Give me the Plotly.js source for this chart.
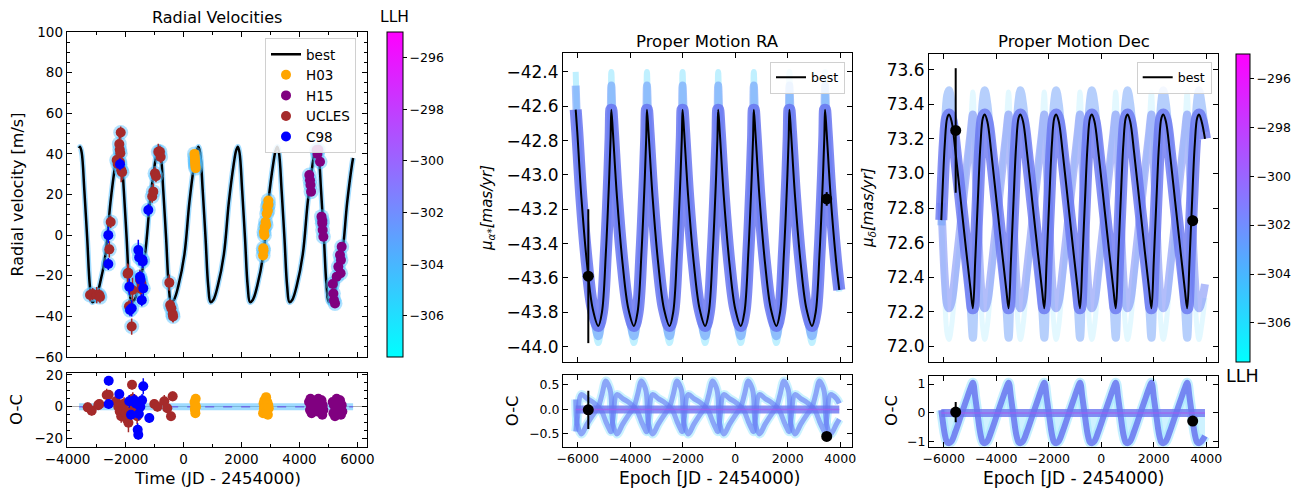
<!DOCTYPE html>
<html><head><meta charset="utf-8">
<script src="https://cdn.plot.ly/plotly-3.0.1.min.js"></script>
<style>body{margin:0;background:#fff}#chart{width:1309px;height:490px}</style>
</head><body><div id="chart"></div>
<script>
// ---------------- Radial velocity: best model ----------------
const rvModelT = [-3600,
 -3571,-3511,-3421,-3321,-3231,-3151,-3051,-2901,-2691,-2521,-2351,-2271,
 -2210,-2150,-2060,-1960,-1870,-1790,-1690,-1540,-1330,-1160,-990,-910,
 -849,-789,-699,-599,-509,-429,-329,-179,31,201,371,451,
 512,572,662,762,852,932,1032,1182,1392,1562,1732,1812,
 1873,1933,2023,2123,2213,2293,2393,2543,2753,2923,3093,3173,
 3234,3294,3384,3484,3574,3654,3754,3904,4114,4284,4454,4534,
 4595,4655,4745,4845,4935,5015,5115,5265,5475,5645,5815,5850];
const rvModelV = [42.8,
 43.5,40.5,22,-2,-25,-33,-31.8,-25,-9.5,16,35,41.5,
 43.5,40.5,22,-2,-25,-33,-31.8,-25,-9.5,16,35,41.5,
 43.5,40.5,22,-2,-25,-33,-31.8,-25,-9.5,16,35,41.5,
 43.5,40.5,22,-2,-25,-33,-31.8,-25,-9.5,16,35,41.5,
 43.5,40.5,22,-2,-25,-33,-31.8,-25,-9.5,16,35,41.5,
 43.5,40.5,22,-2,-25,-33,-31.8,-25,-9.5,16,35,41.5,
 43.5,40.5,22,-2,-25,-33,-31.8,-25,-9.5,16,35,38];

// ---------------- RV data ----------------
const uclesT = [-3226,-3133,-2995,-2905,-2881,-2560,-2512,-2305,-2270,-2215,-2200,-2180,-2167,-2150,-2120,-2195,-1930,-1905,-1880,-1788,-1760,-1502,-1467,-1450,-1080,-1042,-984,-950,-870,-812,-790,-490,-460,-420,-374,-360];
const uclesV = [-29.5,-29.0,-29.5,-29.5,-30.5,-7.0,6.5,37,35,44.9,42,40.3,50.5,32,31,36,-19,-18.5,-35,-45,-27,-22,-26.5,-24,19,21.4,30.4,29,41,41,38.5,-23.4,-34.4,-36,-38.8,-40];
const uclesE = [3,3,4,3,3,4,3,4,5,4,3,4,3,6,4,3,5,4,3,4,6,5,4,3,3,4,3,3,4,3,3,4,3,3,4,3];
const c98T = [-2595,-2595,-2191,-1871,-1846,-1788,-1560,-1530,-1502,-1480,-1440,-1420,-1408,-1388,-1215];
const c98V = [0.0,-14.2,34.9,-25.4,-36.9,-36,-7.3,-11,-20.5,-22,-32,-12,-13,-26.2,12.4];
const c98E = [4,3,3,4,3,4,5,4,3,4,3,4,3,4,3];
const h03T = [380,390,395,400,405,410,420,2745,2752,2760,2775,2790,2800,2830,2850,2870,2890,2910,2924,2930];
const h03V = [40,38.5,37,36,35,34,33,-10,-6.5,-7.5,1.5,0,4,6.5,5,10.5,14,12,17,15];
const h03E = [2,2,2,2,2,2,2,2,2,2,2,2,2,2,2,2,2,2,2,2];
const h15T = [4340,4363,4380,4400,4594,4620,4650,4709,4760,4787,4800,4825,4790,5146,5170,5190,5226,5283,5340,5398,5430,5456,5420];
const h15V = [29.6,27,24.7,21.4,41.9,40,42,36.1,9.1,5.8,2.5,-0.8,7,-24.1,-28.7,-32,-33.6,-20.5,-15.6,-9.8,-12.3,-5.7,-18.8];
const h15E = [2,2,2,2,2,2,2,2,2,2,2,2,2,2,2,2,2,2,2,2,2,2,2];

// ---------------- RV residuals (O-C) ----------------
const uclesRT = [-3306,-3168,-2940,-2905,-2650,-2581,-2329,-2250,-2200,-2150,-2100,-2050,-1990,-1950,-1900,-1860,-1777,-1750,-1700,-1650,-1600,-1560,-1008,-900,-663,-560,-432,-374];
const uclesR = [-0.4,-2.5,1.0,1.7,7.3,7.5,3.4,0,-3,-6,-2,2,-4,-8,-10,-3,13.8,5,-1,2,-6,0,1.7,0,3.4,-1,-6,6.5];
const uclesRE = [3,3,3,3,4,3,3,4,5,4,3,4,5,4,6,4,3,4,3,4,5,3,3,3,4,3,3,3];
const c98RT = [-2581,-2581,-2215,-1871,-1812,-1700,-1650,-1581,-1560,-1540,-1490,-1430,-1388,-1181];
const c98R = [16.3,1.7,7.9,3.4,-5,4,2,-14.4,-17.5,-4.5,0,4,12.8,-7];
const c98RE = [3,3,3,4,3,4,3,4,3,4,3,4,5,3];
const h03RT = [380,395,400,405,410,420,430,2745,2760,2775,2790,2800,2830,2850,2870,2890,2910,2924,2940];
const h03R = [3,-2,-1,1,-4,5,0,-4,2,-1,4,-3,0,6,-2,3,-5,1,-1];
const h03RE = [2,2,2,2,2,2,2,2,2,2,2,2,2,2,2,2,2,2,2];
const h15RT = [4330,4363,4380,4400,4420,4594,4620,4650,4709,4760,4787,4800,4825,5146,5170,5190,5226,5283,5340,5398,5430,5456,5480];
const h15R = [3,-2,5,0,-4,2,-3,5,-1,4,-5,1,-2,3,-4,1,-6,5,-2,4,-5,1,-3];
const h15RE = [2,2,2,2,2,2,2,2,2,2,2,2,2,2,2,2,2,2,2,2,2,2,2];
const rvSpanT = [-3600,5850];
const rvZero = [0,0];

// ---------------- Proper motion RA ----------------
const raT = [-6076,-6016,-5860,-5644,-5428,-5215,-5076,-4926,-4796,-4746,
 -4719,-4659,-4503,-4287,-4071,-3858,-3719,-3569,-3439,-3389,
 -3362,-3302,-3146,-2930,-2714,-2501,-2362,-2212,-2082,-2032,
 -2005,-1945,-1789,-1573,-1357,-1144,-1005,-855,-725,-675,
 -648,-588,-432,-216,0,213,352,502,632,682,
 709,769,925,1141,1357,1570,1709,1859,1989,2039,
 2066,2126,2282,2498,2714,2927,3066,3216,3346,3396,
 3423,3483,3639,3855,3966];
const raBest = [-42.62,-42.75,-43.13,-43.52,-43.78,-43.88,-43.80,-43.45,-43.00,-42.78,
 -42.62,-42.75,-43.13,-43.52,-43.78,-43.88,-43.80,-43.45,-43.00,-42.78,
 -42.62,-42.75,-43.13,-43.52,-43.78,-43.88,-43.80,-43.45,-43.00,-42.78,
 -42.62,-42.75,-43.13,-43.52,-43.78,-43.88,-43.80,-43.45,-43.00,-42.78,
 -42.62,-42.75,-43.13,-43.52,-43.78,-43.88,-43.80,-43.45,-43.00,-42.78,
 -42.62,-42.75,-43.13,-43.52,-43.78,-43.88,-43.80,-43.45,-43.00,-42.78,
 -42.62,-42.75,-43.13,-43.52,-43.78,-43.88,-43.80,-43.45,-43.00,-42.78,
 -42.62,-42.75,-43.13,-43.52,-43.67];
const raWide = [-42.40,-42.70,-43.13,-43.53,-43.80,-43.98,-43.83,-43.45,-42.98,-42.70,
 -42.40,-42.70,-43.13,-43.53,-43.80,-43.98,-43.83,-43.45,-42.98,-42.70,
 -42.40,-42.70,-43.13,-43.53,-43.80,-43.98,-43.83,-43.45,-42.98,-42.70,
 -42.40,-42.70,-43.13,-43.53,-43.80,-43.98,-43.83,-43.45,-42.98,-42.70,
 -42.40,-42.70,-43.13,-43.53,-43.80,-43.98,-43.83,-43.45,-42.98,-42.70,
 -42.40,-42.70,-43.13,-43.53,-43.80,-43.98,-43.83,-43.45,-42.98,-42.70,
 -42.40,-42.70,-43.13,-43.53,-43.80,-43.98,-43.83,-43.45,-42.98,-42.70,
 -42.40,-42.70,-43.13,-43.53,-43.68];
const raMid = [-42.48,-42.72,-43.13,-43.52,-43.79,-43.94,-43.82,-43.45,-42.99,-42.74,
 -42.48,-42.72,-43.13,-43.52,-43.79,-43.94,-43.82,-43.45,-42.99,-42.74,
 -42.48,-42.72,-43.13,-43.52,-43.79,-43.94,-43.82,-43.45,-42.99,-42.74,
 -42.48,-42.72,-43.13,-43.52,-43.79,-43.94,-43.82,-43.45,-42.99,-42.74,
 -42.48,-42.72,-43.13,-43.52,-43.79,-43.94,-43.82,-43.45,-42.99,-42.74,
 -42.48,-42.72,-43.13,-43.52,-43.79,-43.94,-43.82,-43.45,-42.99,-42.74,
 -42.48,-42.72,-43.13,-43.52,-43.79,-43.94,-43.82,-43.45,-42.99,-42.74,
 -42.48,-42.72,-43.13,-43.52,-43.67];
const raRes1 = [-0.45,-0.20,0.30,0.22,0.15,0.05,-0.05,-0.25,-0.40,-0.45,
 -0.45,-0.20,0.30,0.22,0.15,0.05,-0.05,-0.25,-0.40,-0.45,
 -0.45,-0.20,0.30,0.22,0.15,0.05,-0.05,-0.25,-0.40,-0.45,
 -0.45,-0.20,0.30,0.22,0.15,0.05,-0.05,-0.25,-0.40,-0.45,
 -0.45,-0.20,0.30,0.22,0.15,0.05,-0.05,-0.25,-0.40,-0.45,
 -0.45,-0.20,0.30,0.22,0.15,0.05,-0.05,-0.25,-0.40,-0.45,
 -0.45,-0.20,0.30,0.22,0.15,0.05,-0.05,-0.25,-0.40,-0.45,
 -0.45,-0.20,0.30,0.22,0.12];
const raRes2 = [0.20,-0.30,-0.50,-0.30,-0.12,0.05,0.30,0.58,0.45,0.35,
 0.20,-0.30,-0.50,-0.30,-0.12,0.05,0.30,0.58,0.45,0.35,
 0.20,-0.30,-0.50,-0.30,-0.12,0.05,0.30,0.58,0.45,0.35,
 0.20,-0.30,-0.50,-0.30,-0.12,0.05,0.30,0.58,0.45,0.35,
 0.20,-0.30,-0.50,-0.30,-0.12,0.05,0.30,0.58,0.45,0.35,
 0.20,-0.30,-0.50,-0.30,-0.12,0.05,0.30,0.58,0.45,0.35,
 0.20,-0.30,-0.50,-0.30,-0.12,0.05,0.30,0.58,0.45,0.35,
 0.20,-0.30,-0.50,-0.30,-0.20];
const raSpanT = [-6076,3966];
const pmZero = [0,0];
const raObsT = [-5596,3486];
const raObsV = [-43.59,-43.14];
const raObsE = [0.39,0.04];
const raObsR = [-0.01,-0.55];
const raObsRE = [0.39,0.02];

// ---------------- Proper motion Dec ----------------
const decT = [-6091,-6058,-5958,-5868,
 -5798,-5698,-5548,-5348,-5148,-4978,-4888,-4798,-4698,-4598,-4508,
 -4437,-4337,-4187,-3987,-3787,-3617,-3527,-3437,-3337,-3237,-3147,
 -3077,-2977,-2827,-2627,-2427,-2257,-2167,-2077,-1977,-1877,-1787,
 -1716,-1616,-1466,-1266,-1066,-896,-806,-716,-616,-516,-426,
 -355,-255,-105,95,295,465,555,645,745,845,935,
 1005,1105,1255,1455,1655,1825,1915,2005,2105,2205,2295,
 2366,2466,2616,2816,3016,3186,3276,3366,3466,3566,3656,
 3726,3826,3954];
const decBest = [72.73,72.85,73.17,73.32,
 73.34,73.30,73.12,72.84,72.56,72.33,72.22,72.50,72.85,73.17,73.32,
 73.34,73.30,73.12,72.84,72.56,72.33,72.22,72.50,72.85,73.17,73.32,
 73.34,73.30,73.12,72.84,72.56,72.33,72.22,72.50,72.85,73.17,73.32,
 73.34,73.30,73.12,72.84,72.56,72.33,72.22,72.50,72.85,73.17,73.32,
 73.34,73.30,73.12,72.84,72.56,72.33,72.22,72.50,72.85,73.17,73.32,
 73.34,73.30,73.12,72.84,72.56,72.33,72.22,72.50,72.85,73.17,73.32,
 73.34,73.30,73.12,72.84,72.56,72.33,72.22,72.50,72.85,73.17,73.32,
 73.34,73.30,73.20];
const decWide = [72.70,72.85,73.25,73.45,
 73.48,73.40,73.15,72.84,72.52,72.24,72.05,72.45,72.85,73.22,73.42,
 73.48,73.40,73.15,72.84,72.52,72.24,72.05,72.45,72.85,73.22,73.42,
 73.48,73.40,73.15,72.84,72.52,72.24,72.05,72.45,72.85,73.22,73.42,
 73.48,73.40,73.15,72.84,72.52,72.24,72.05,72.45,72.85,73.22,73.42,
 73.48,73.40,73.15,72.84,72.52,72.24,72.05,72.45,72.85,73.22,73.42,
 73.48,73.40,73.15,72.84,72.52,72.24,72.05,72.45,72.85,73.22,73.42,
 73.48,73.40,73.15,72.84,72.52,72.24,72.05,72.45,72.85,73.22,73.42,
 73.48,73.40,73.24];
// mirrored sample family (sharp crests where the best fit has its troughs)
const decMirror = [72.83,72.71,72.39,72.24,
 72.22,72.26,72.44,72.72,73.00,73.23,73.34,73.06,72.71,72.39,72.24,
 72.22,72.26,72.44,72.72,73.00,73.23,73.34,73.06,72.71,72.39,72.24,
 72.22,72.26,72.44,72.72,73.00,73.23,73.34,73.06,72.71,72.39,72.24,
 72.22,72.26,72.44,72.72,73.00,73.23,73.34,73.06,72.71,72.39,72.24,
 72.22,72.26,72.44,72.72,73.00,73.23,73.34,73.06,72.71,72.39,72.24,
 72.22,72.26,72.44,72.72,73.00,73.23,73.34,73.06,72.71,72.39,72.24,
 72.22,72.26,72.44,72.72,73.00,73.23,73.34,73.06,72.71,72.39,72.24,
 72.22,72.26,72.36];
const decMirrorWide = [72.82,72.67,72.27,72.07,
 72.04,72.12,72.37,72.68,73.00,73.28,73.47,73.07,72.67,72.30,72.10,
 72.04,72.12,72.37,72.68,73.00,73.28,73.47,73.07,72.67,72.30,72.10,
 72.04,72.12,72.37,72.68,73.00,73.28,73.47,73.07,72.67,72.30,72.10,
 72.04,72.12,72.37,72.68,73.00,73.28,73.47,73.07,72.67,72.30,72.10,
 72.04,72.12,72.37,72.68,73.00,73.28,73.47,73.07,72.67,72.30,72.10,
 72.04,72.12,72.37,72.68,73.00,73.28,73.47,73.07,72.67,72.30,72.10,
 72.04,72.12,72.37,72.68,73.00,73.28,73.47,73.07,72.67,72.30,72.10,
 72.04,72.12,72.28];
const decRes = [0.10,-0.13,-0.74,-1.02,
 -1.05,-0.98,-0.64,-0.11,0.42,0.86,1.05,0.53,-0.13,-0.74,-1.02,
 -1.05,-0.98,-0.64,-0.11,0.42,0.86,1.05,0.53,-0.13,-0.74,-1.02,
 -1.05,-0.98,-0.64,-0.11,0.42,0.86,1.05,0.53,-0.13,-0.74,-1.02,
 -1.05,-0.98,-0.64,-0.11,0.42,0.86,1.05,0.53,-0.13,-0.74,-1.02,
 -1.05,-0.98,-0.64,-0.11,0.42,0.86,1.05,0.53,-0.13,-0.74,-1.02,
 -1.05,-0.98,-0.64,-0.11,0.42,0.86,1.05,0.53,-0.13,-0.74,-1.02,
 -1.05,-0.98,-0.64,-0.11,0.42,0.86,1.05,0.53,-0.13,-0.74,-1.02,
 -1.05,-0.98,-0.80];
const decSpanT = [-6091,3954];
const decObsT = [-5543,3486];
const decObsV = [73.248,72.727];
const decObsE = [0.36,0.03];
const decObsR = [0.03,-0.28];
const decObsRE = [0.35,0.02];

// ---------------- colour bar ----------------
const llhMin = -307.6, llhMax = -295.0;
const llhTicks = [-306,-304,-302,-300,-298,-296];

// ================= drawing =================
const W = 1309, H = 490;
const px = v => v / W, py = v => 1 - v / H;
const FONT = 'DejaVu Sans, Verdana, sans-serif';
const traces = [];
function line(x, y, xa, ya, color, width, dash) {
  return {type:'scatter', mode:'lines', x, y, xaxis:xa, yaxis:ya,
    line:{color, width, shape:'spline', smoothing:1, dash:dash || 'solid'}, showlegend:false, hoverinfo:'skip'};
}
function pts(x, y, e, xa, ya, color, size, thick) {
  return {type:'scatter', mode:'markers', x, y, xaxis:xa, yaxis:ya, showlegend:false, hoverinfo:'skip',
    marker:{size, color}, error_y:{type:'data', array:e, visible:true, color, thickness:thick, width:0}};
}
// RV main
traces.push(line(rvModelT, rvModelV, 'x', 'y', 'rgba(70,185,255,0.5)', 5.5));
const best1 = line(rvModelT, rvModelV, 'x', 'y', '#000', 2.5);
Object.assign(best1, {name:'best', showlegend:true, legend:'legend', legendrank:1});
traces.push(best1);
const rvSets = [
  ['H03', '#ffa500', h03T, h03V, h03E, h03RT, h03R, h03RE, 2],
  ['H15', '#800080', h15T, h15V, h15E, h15RT, h15R, h15RE, 3],
  ['UCLES', '#a52a2a', uclesT, uclesV, uclesE, uclesRT, uclesR, uclesRE, 4],
  ['C98', '#0000ff', c98T, c98V, c98E, c98RT, c98R, c98RE, 5]];
rvSets.forEach(s => {
  traces.push({type:'scatter', mode:'markers', x:s[2], y:s[3], xaxis:'x', yaxis:'y', showlegend:false, hoverinfo:'skip',
    marker:{size:15, color:'rgba(80,190,255,0.45)'}});
});
// RV residual band
traces.push(line(rvSpanT, rvZero, 'x2', 'y2', 'rgba(80,190,255,0.55)', 7));
traces.push(line(rvSpanT, rvZero, 'x2', 'y2', 'rgba(110,100,230,0.9)', 1.5, 'dash'));
rvSets.forEach(s => {
  const p = pts(s[2], s[3], s[4], 'x', 'y', s[1], 10, 1.5);
  Object.assign(p, {name:s[0], showlegend:true, legend:'legend', legendrank:s[8]});
  traces.push(p);
  traces.push(pts(s[5], s[6], s[7], 'x2', 'y2', s[1], 10, 1.5));
});

// RA main
traces.push(line(raT, raWide, 'x3', 'y3', 'rgba(150,230,255,0.6)', 6));
traces.push(line(raT, raMid, 'x3', 'y3', 'rgba(100,150,250,0.55)', 8));
traces.push(line(raT, raBest, 'x3', 'y3', 'rgba(105,118,240,0.85)', 12));
const best2 = line(raT, raBest, 'x3', 'y3', '#000', 2);
Object.assign(best2, {name:'best', showlegend:true, legend:'legend2'});
traces.push(best2);
traces.push(pts(raObsT, raObsV, raObsE, 'x3', 'y3', '#000', 11, 2));
// RA residual
traces.push(line(raT, raRes1, 'x4', 'y4', 'rgba(150,230,255,0.5)', 9));
traces.push(line(raT, raRes2, 'x4', 'y4', 'rgba(150,230,255,0.5)', 9));
traces.push(line(raT, raRes1, 'x4', 'y4', 'rgba(105,125,245,0.65)', 5));
traces.push(line(raT, raRes2, 'x4', 'y4', 'rgba(105,125,245,0.65)', 5));
traces.push(line(raSpanT, pmZero, 'x4', 'y4', 'rgba(105,118,240,0.8)', 8));
traces.push(line(raSpanT, pmZero, 'x4', 'y4', 'rgba(170,90,240,0.7)', 1.5));
traces.push(pts(raObsT, raObsR, raObsRE, 'x4', 'y4', '#000', 11, 2));

// Dec main
traces.push(line(decT, decMirrorWide, 'x5', 'y5', 'rgba(175,235,255,0.35)', 5));
traces.push(line(decT, decMirror, 'x5', 'y5', 'rgba(115,135,245,0.55)', 8));
traces.push(line(decT, decWide, 'x5', 'y5', 'rgba(110,160,250,0.5)', 8));
traces.push(line(decT, decBest, 'x5', 'y5', 'rgba(105,118,240,0.8)', 12));
const best3 = line(decT, decBest, 'x5', 'y5', '#000', 2);
Object.assign(best3, {name:'best', showlegend:true, legend:'legend3'});
traces.push(best3);
traces.push(pts(decObsT, decObsV, decObsE, 'x5', 'y5', '#000', 11, 2));
// Dec residual
const decFill = line(decT, decRes, 'x6', 'y6', 'rgba(160,230,255,0.6)', 10);
Object.assign(decFill, {fill:'tozeroy', fillcolor:'rgba(190,238,255,0.75)'});
traces.push(decFill);
traces.push(line(decT, decRes, 'x6', 'y6', 'rgba(105,118,240,0.85)', 6));
traces.push(line(decSpanT, pmZero, 'x6', 'y6', 'rgba(105,118,240,0.8)', 8));
traces.push(line(decSpanT, pmZero, 'x6', 'y6', 'rgba(170,90,240,0.7)', 1.5));
traces.push(pts(decObsT, decObsR, decObsRE, 'x6', 'y6', '#000', 11, 2));

// colour bars
function cbar(xa, ya, xpos, ymid, len, thick) {
  return {type:'scatter', mode:'markers', x:[1e9], y:[1e9], xaxis:xa, yaxis:ya, showlegend:false, hoverinfo:'skip',
    marker:{color:[-301], cmin:llhMin, cmax:llhMax, colorscale:[[0,'#00ffff'],[1,'#ff00ff']], showscale:true,
      colorbar:{x:xpos, xanchor:'left', xref:'paper', y:ymid, yanchor:'middle', yref:'paper', len:len, lenmode:'fraction',
        thickness:thick, thicknessmode:'pixels', xpad:0, ypad:0, outlinewidth:1, outlinecolor:'#000',
        tickvals:llhTicks, ticks:'outside', ticklen:4, tickcolor:'#000', tickfont:{size:12.5, family:FONT, color:'#000'}}}};
}
traces.push(cbar('x', 'y', px(387), py(194.5), 325/H, 16));
traces.push(cbar('x5', 'y5', px(1236), py(208), 308/H, 14));

function ax(extra) {
  return Object.assign({showline:true, linecolor:'#000', linewidth:1, mirror:'allticks', ticks:'inside',
    ticklen:5, tickcolor:'#000', tickwidth:1, showgrid:false, zeroline:false, fixedrange:true}, extra);
}
const rvMinorX = {ticks:'inside', ticklen:3, dtick:1000, tickcolor:'#000'};
const layout = {
  width:W, height:H, margin:{l:0, r:0, t:0, b:0}, paper_bgcolor:'#fff', plot_bgcolor:'#fff',
  font:{family:FONT, size:13, color:'#000'}, showlegend:true, hovermode:false,
  xaxis: ax({domain:[px(66.7), px(367.3)], range:[-4030,6340], anchor:'y', dtick:2000, tick0:0, showticklabels:false, minor:rvMinorX}),
  yaxis: ax({domain:[py(357), py(32)], range:[-60,100], anchor:'x', dtick:20, tickfont:{size:13.5}, minor:{ticks:'inside', ticklen:3, dtick:5, tickcolor:'#000'}}),
  xaxis2: ax({domain:[px(66.7), px(367.3)], range:[-4030,6340], anchor:'y2', dtick:2000, tick0:0, tickfont:{size:13.5}, minor:rvMinorX}),
  yaxis2: ax({domain:[py(447), py(372.7)], range:[-25.2,21.3], anchor:'x2', dtick:20, tickfont:{size:13.5},
    zeroline:true, zerolinecolor:'#b0b0b0', zerolinewidth:1.5, minor:{ticks:'inside', ticklen:3, dtick:5, tickcolor:'#000'}}),
  xaxis3: ax({domain:[px(563), px(852)], range:[-6560,4450], anchor:'y3', dtick:2000, tick0:0, showticklabels:false}),
  yaxis3: ax({domain:[py(362), py(53)], range:[-44.09,-42.29], anchor:'x3', dtick:0.2, tick0:0, tickformat:'.1f', tickfont:{size:17}}),
  xaxis4: ax({domain:[px(563), px(852)], range:[-6560,4450], anchor:'y4', dtick:2000, tick0:0, tickfont:{size:12.5}}),
  yaxis4: ax({domain:[py(446.7), py(375)], range:[-0.76,0.70], anchor:'x4', dtick:0.5, tick0:0, tickformat:'.1f', tickfont:{size:12.5}}),
  xaxis5: ax({domain:[px(929), px(1218)], range:[-6560,4450], anchor:'y5', dtick:2000, tick0:0, showticklabels:false}),
  yaxis5: ax({domain:[py(362), py(54)], range:[71.91,73.69], anchor:'x5', dtick:0.2, tick0:0, tickformat:'.1f', tickfont:{size:17}}),
  xaxis6: ax({domain:[px(929), px(1218)], range:[-6560,4450], anchor:'y6', dtick:2000, tick0:0, tickfont:{size:12.5}}),
  yaxis6: ax({domain:[py(446.7), py(376)], range:[-1.17,1.28], anchor:'x6', dtick:1, tick0:0, tickfont:{size:12.5}}),
  legend:{x:px(265), y:py(38), xanchor:'left', yanchor:'top', bgcolor:'rgba(255,255,255,0.85)', bordercolor:'#d0d0d0', borderwidth:1,
    font:{size:13.5, family:FONT}, traceorder:'normal'},
  legend2:{x:px(770), y:py(61.7), xanchor:'left', yanchor:'top', bgcolor:'rgba(255,255,255,0.85)', bordercolor:'#d0d0d0', borderwidth:1,
    font:{size:12.5, family:FONT}},
  legend3:{x:px(1136.7), y:py(61.7), xanchor:'left', yanchor:'top', bgcolor:'rgba(255,255,255,0.85)', bordercolor:'#d0d0d0', borderwidth:1,
    font:{size:12.5, family:FONT}},
  annotations:[]
};
function note(text, x, y, size, angle) {
  layout.annotations.push({text, x:px(x), y:py(y), xref:'paper', yref:'paper', showarrow:false,
    xanchor:'center', yanchor:'middle', textangle:angle || 0, font:{size, family:FONT, color:'#000'}});
}
note('Radial Velocities', 217, 17.5, 16);
note('LLH', 394, 17.5, 15.5);
note('Proper Motion RA', 707.5, 41, 16.5);
note('Proper Motion Dec', 1073.5, 41, 16.5);
note('LLH', 1242.5, 376, 17.5);
note('Radial velocity [m/s]', 17, 194.5, 16, -90);
note('O-C', 16, 410, 16.5, -90);
note('Time (JD - 2454000)', 217, 478, 16.5);
note('<i>μ<sub>α*</sub>[mas/yr]</i>', 487.5, 207.5, 15, -90);
note('O-C', 512.5, 410.8, 16.5, -90);
note('Epoch [JD - 2454000)', 709, 478, 17);
note('<i>μ<sub>δ</sub>[mas/yr]</i>', 868, 208, 15, -90);
note('O-C', 891, 411, 16.5, -90);
note('Epoch [JD - 2454000)', 1073.5, 478, 17);

Plotly.newPlot('chart', traces, layout, {staticPlot:true, displayModeBar:false});
</script></body></html>
